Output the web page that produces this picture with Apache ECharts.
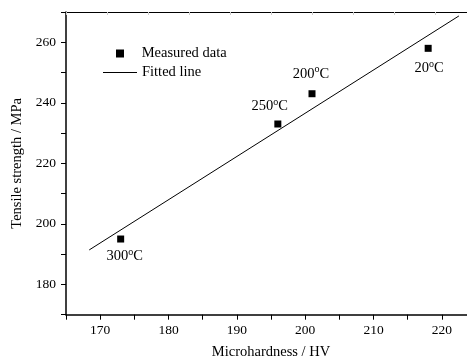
<!DOCTYPE html>
<html><head><meta charset="utf-8">
<script src="https://cdn.jsdelivr.net/npm/echarts@6/dist/echarts.min.js"></script>
<style>html,body{margin:0;padding:0;background:#fff}#c{width:467px;height:359px}</style>
</head><body><div id="c"></div>
<script>
const hardness = [218, 201, 196, 173];
const strength = [258, 243, 233, 195];
const tempLabels = ['20', '200', '250', '300'];
const fitX = [168.4, 222.5];
const fitY = [191.4, 268.7];
const xTicks = [170, 180, 190, 200, 210, 220];
const yTicks = [180, 200, 220, 240, 260];

const FONT = 'Liberation Serif';
const labelOffsets = [[1, 20], [-1, -20], [-8, -18], [4, 17]];

const chart = echarts.init(document.getElementById('c'), null, {renderer: 'canvas'});
const scatterData = hardness.map((h, i) => ({
  value: [h, strength[i]],
  label: {
    show: true, position: 'inside', offset: labelOffsets[i],
    formatter: '{n|' + tempLabels[i] + '}{s|o}{n|C}'
  }
}));
chart.setOption({
  animation: false,
  grid: {left: 66, top: 12, right: -9, bottom: 44.3, outerBoundsMode: 'none', containLabel: false},
  legend: [
    {id: 'l1', data: ['Measured data'], left: 116, top: 46, padding: 0, itemWidth: 8, itemHeight: 8,
     icon: 'rect', itemStyle: {opacity: 1},
     textStyle: {fontFamily: FONT, fontSize: 14.5, color: '#000', padding: [0, 0, 0, 12.7]}},
    {id: 'l2', data: ['Fitted line'], left: 103, top: 65, padding: 0, itemWidth: 34, itemHeight: 1,
     icon: 'rect', itemStyle: {color: '#000', opacity: 1},
     textStyle: {fontFamily: FONT, fontSize: 14.5, color: '#000'}}
  ],
  xAxis: [{
    type: 'value', min: 165, max: 225, interval: 5, position: 'bottom',
    name: 'Microhardness / HV', nameLocation: 'middle', nameGap: 30,
    nameTextStyle: {fontFamily: FONT, fontSize: 14.5, color: '#000'},
    axisLine: {lineStyle: {color: '#000', width: 1.5}},
    axisTick: {inside: false, length: 5, lineStyle: {color: '#000', width: 1}},
    axisLabel: {fontFamily: FONT, fontSize: 13.5, color: '#000', margin: 9,
      formatter: v => xTicks.includes(v) ? String(v) : ''},
    splitLine: {show: false}
  }, {
    type: 'value', min: 0, max: 10, interval: 1, position: 'top',
    axisLine: {lineStyle: {color: '#000', width: 1.2}},
    axisTick: {inside: true, length: 3, lineStyle: {color: '#ccc', width: 1}},
    axisLabel: {show: false}, splitLine: {show: false}
  }],
  yAxis: {
    type: 'value', min: 170, max: 270, interval: 10,
    name: 'Tensile strength / MPa', nameLocation: 'middle', nameGap: 38,
    nameTextStyle: {fontFamily: FONT, fontSize: 14.5, color: '#000'},
    axisLine: {show: true, lineStyle: {color: '#000', width: 1.5}},
    axisTick: {inside: false, length: 5, lineStyle: {color: '#000', width: 1}},
    axisLabel: {fontFamily: FONT, fontSize: 13.5, color: '#000', margin: 10,
      formatter: v => yTicks.includes(v) ? String(v) : ''},
    splitLine: {show: false}
  },
  series: [{
    name: 'Measured data', type: 'scatter', symbol: 'rect', symbolSize: 7,
    itemStyle: {color: '#000', opacity: 1},
    label: {rich: {
      n: {fontFamily: FONT, fontSize: 14.5, color: '#000'},
      s: {fontFamily: FONT, fontSize: 10, color: '#000', padding: [0, 0, 8, 0]}
    }},
    data: scatterData
  }, {
    name: 'Fitted line', type: 'line', showSymbol: false, symbol: 'none',
    lineStyle: {color: '#000', width: 1}, itemStyle: {color: '#000'},
    data: fitX.map((x, i) => [x, fitY[i]])
  }]
});
</script></body></html>
